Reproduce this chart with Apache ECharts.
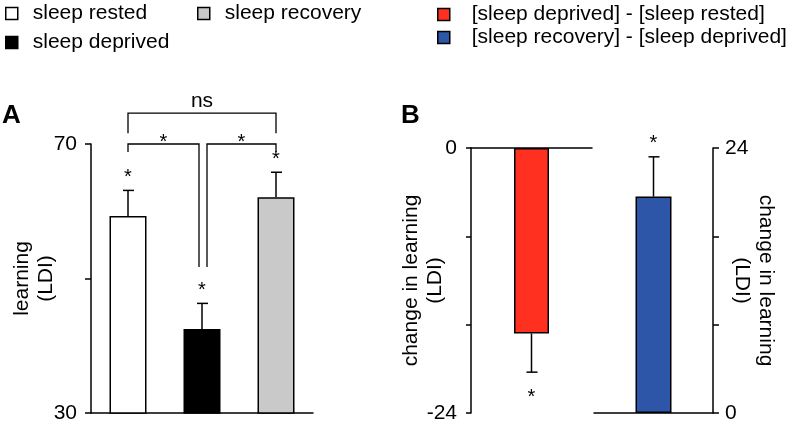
<!DOCTYPE html>
<html>
<head>
<meta charset="utf-8">
<script src="https://cdn.jsdelivr.net/npm/echarts@6/dist/echarts.min.js"></script>
<style>html,body{margin:0;padding:0;background:#fff}#c{width:800px;height:429px}</style>
</head>
<body>
<div id="c"></div>
<script>
// ---- data ----
const catsA = ['sleep rested', 'sleep deprived', 'sleep recovery'];
const meanA = [59.3, 42.5, 62.1];
const semA = [3.8, 3.8, 3.7];
const sigA = ['*', '*', '*'];
const ticksA = [30, 70];
const diffNames = ['[sleep deprived] - [sleep rested]', '[sleep recovery] - [sleep deprived]'];
const diffMeans = [-16.8, 19.6];
const diffSem = [3.5, 3.6];
const sigB = ['*', '*'];
const ticksBLeft = [-24, 0];
const ticksBRight = [0, 24];
// brackets: [fromIndex, toIndex, barValue, legFromValue, legToValue, label]
const brackets = [
  [0, 2, 74.6, 71.6, 71.6, 'ns'],
  [0, 1, 70.0, 68.8, 51.7, '*'],
  [1, 2, 70.0, 51.7, 68.8, '*']
];

// ---- styles ----
const FONT = '"Liberation Sans", Arial, sans-serif';
const colorsA = ['#ffffff', '#000000', '#c9c9c9'];
const colorsB = ['#ff3020', '#2d56a8'];
const LW = 1.5;
const fs = 21;

function errRender(params, api) {
  const idx = api.value(0), m = api.value(1), s = api.value(2);
  const dir = m >= 0 ? 1 : -1;
  const p0 = api.coord([idx, m]);
  const p1 = api.coord([idx, m + dir * s]);
  const children = [
    {type: 'line', shape: {x1: p0[0], y1: p0[1], x2: p1[0], y2: p1[1]}, style: {stroke: '#000', lineWidth: LW}},
    {type: 'line', shape: {x1: p1[0] - 5, y1: p1[1], x2: p1[0] + 6, y2: p1[1]}, style: {stroke: '#000', lineWidth: LW}}
  ];
  const lab = params.seriesName === 'errA' ? sigA[params.dataIndex] : sigB[params.dataIndex + (params.seriesName === 'errBR' ? 1 : 0)];
  if (lab) {
    children.push({type: 'text', style: {text: lab, x: p1[0], y: dir > 0 ? p1[1] - 3 : p1[1] + 35,
      textAlign: 'center', textVerticalAlign: 'bottom', font: '20px ' + FONT, fill: '#000'}});
  }
  return {type: 'group', children};
}

function bracketRender(params, api) {
  const a = api.value(0), b = api.value(1), y = api.value(2), la = api.value(3), lb = api.value(4);
  const lab = brackets[params.dataIndex][5];
  let xa = api.coord([a, y])[0] + (a === 1 ? 5 : 0);
  let xb = api.coord([b, y])[0] - (b === 1 ? 3 : 0);
  const yy = api.coord([a, y])[1];
  const ya = api.coord([a, la])[1];
  const yb = api.coord([b, lb])[1];
  const st = {stroke: '#000', lineWidth: 1.3, fill: null};
  const children = [
    {type: 'polyline', shape: {points: [[xa, ya], [xa, yy], [xb, yy], [xb, yb]]}, style: st}
  ];
  const isStar = lab === '*';
  children.push({type: 'text', style: {text: lab, x: (xa + xb) / 2, y: isStar ? yy + 8 : yy - 1,
    textAlign: 'center', textVerticalAlign: 'bottom', font: (isStar ? '20px ' : '21px ') + FONT, fill: '#000'}});
  return {type: 'group', children};
}

const axisLineStyle = {lineStyle: {color: '#000', width: LW}};
const labelStyle = {color: '#000', fontSize: fs, fontFamily: FONT};
const nameStyle = {color: '#000', fontSize: fs, fontFamily: FONT, lineHeight: 24};

const legendCommon = {
  padding: 0, selectedMode: false, itemWidth: 12, itemHeight: 12, icon: 'rect',
  itemStyle: {borderColor: '#000', borderWidth: 1.5},
  textStyle: {color: '#000', fontSize: fs, fontFamily: FONT, padding: [0, 0, 0, 10]}
};

const option = {
  animation: false,
  backgroundColor: '#fff',
  textStyle: {fontFamily: FONT},
  legend: [
    Object.assign({}, legendCommon, {data: [catsA[0]], left: 5, top: 3}),
    Object.assign({}, legendCommon, {data: [catsA[2]], left: 197, top: 3}),
    Object.assign({}, legendCommon, {data: [catsA[1]], left: 5, top: 32}),
    Object.assign({}, legendCommon, {data: diffNames, left: 437, top: 3, orient: 'vertical', itemGap: 0,
      textStyle: Object.assign({}, legendCommon.textStyle, {padding: [0, 0, 0, 17], lineHeight: 23})})
  ],
  graphic: [
    {type: 'text', left: 2, top: 103, style: {text: 'A', font: 'bold 26px ' + FONT, fill: '#000'}},
    {type: 'text', left: 401, top: 103, style: {text: 'B', font: 'bold 26px ' + FONT, fill: '#000'}}
  ],
  grid: [
    {left: 91, top: 144, width: 222, height: 269},
    {left: 471, top: 148, width: 121, height: 265},
    {left: 594, top: 148, width: 119, height: 265}
  ],
  xAxis: [
    {gridIndex: 0, type: 'category', data: catsA, axisLine: axisLineStyle, axisTick: {show: false}, axisLabel: {show: false}},
    {gridIndex: 1, type: 'category', data: [diffNames[0]], position: 'top', axisLine: Object.assign({onZero: false}, axisLineStyle), axisTick: {show: false}, axisLabel: {show: false}},
    {gridIndex: 2, type: 'category', data: [diffNames[1]], axisLine: axisLineStyle, axisTick: {show: false}, axisLabel: {show: false}}
  ],
  yAxis: [
    {gridIndex: 0, type: 'value', min: 30, max: 70, interval: 20, splitLine: {show: false},
      axisLine: Object.assign({show: true}, axisLineStyle), axisTick: {show: true, length: 6, lineStyle: {color: '#000', width: LW}},
      axisLabel: Object.assign({margin: 14, formatter: v => ticksA.includes(v) ? String(v) : ''}, labelStyle),
      name: 'learning\n(LDI)', nameLocation: 'middle', nameGap: 33, nameMoveOverlap: false, nameTextStyle: nameStyle},
    {gridIndex: 1, type: 'value', min: -24, max: 0, interval: 8, splitLine: {show: false},
      axisLine: Object.assign({show: true}, axisLineStyle), axisTick: {show: true, length: 5, lineStyle: {color: '#000', width: LW}},
      axisLabel: Object.assign({margin: 14, formatter: v => ticksBLeft.includes(v) ? String(v) : ''}, labelStyle),
      name: 'change in learning\n(LDI)', nameLocation: 'middle', nameGap: 24, nameMoveOverlap: false, nameTextStyle: nameStyle},
    {gridIndex: 2, type: 'value', position: 'right', min: 0, max: 24, interval: 8, splitLine: {show: false},
      axisLine: Object.assign({show: true}, axisLineStyle), axisTick: {show: true, length: 6, lineStyle: {color: '#000', width: LW}},
      axisLabel: Object.assign({margin: 12, formatter: v => ticksBRight.includes(v) ? String(v) : ''}, labelStyle),
      name: 'change in learning\n(LDI)', nameLocation: 'middle', nameGap: 17, nameRotate: -90, nameMoveOverlap: false, nameTextStyle: nameStyle}
  ],
  series: [
    ...catsA.map((c, i) => ({
      name: c, type: 'bar', xAxisIndex: 0, yAxisIndex: 0, barWidth: 37, barGap: '-100%',
      data: meanA.map((m, j) => j === i ? m : null),
      itemStyle: {color: colorsA[i], borderColor: '#000', borderWidth: LW}
    })),
    {name: 'errA', type: 'custom', xAxisIndex: 0, yAxisIndex: 0, clip: false, renderItem: errRender,
      data: meanA.map((m, i) => [i, m, semA[i]]), encode: {x: 0, y: 1}, z: 3},
    {name: 'brackets', type: 'custom', xAxisIndex: 0, yAxisIndex: 0, clip: false, renderItem: bracketRender,
      data: brackets.map(b => [b[0], b[1], b[2], b[3], b[4]]), encode: {x: [0, 1], y: [2, 3, 4]}, z: 3},
    {name: diffNames[0], type: 'bar', xAxisIndex: 1, yAxisIndex: 1, barWidth: 35, data: [diffMeans[0]],
      itemStyle: {color: colorsB[0], borderColor: '#000', borderWidth: LW}},
    {name: diffNames[1], type: 'bar', xAxisIndex: 2, yAxisIndex: 2, barWidth: 36, data: [diffMeans[1]],
      itemStyle: {color: colorsB[1], borderColor: '#000', borderWidth: LW}},
    {name: 'errBL', type: 'custom', xAxisIndex: 1, yAxisIndex: 1, clip: false, renderItem: errRender,
      data: [[0, diffMeans[0], diffSem[0]]], encode: {x: 0, y: 1}, z: 3},
    {name: 'errBR', type: 'custom', xAxisIndex: 2, yAxisIndex: 2, clip: false, renderItem: errRender,
      data: [[0, diffMeans[1], diffSem[1]]], encode: {x: 0, y: 1}, z: 3}
  ]
};

const chart = echarts.init(document.getElementById('c'), null, {renderer: 'canvas'});
chart.setOption(option);
</script>
</body>
</html>
